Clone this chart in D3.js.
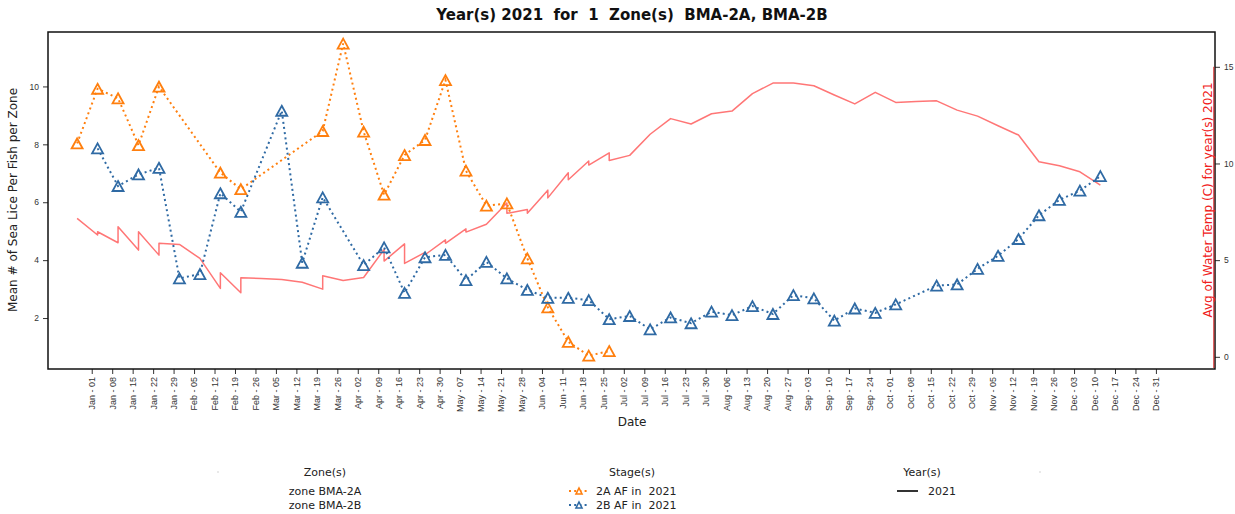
<!DOCTYPE html>
<html>
<head>
<meta charset="utf-8">
<script src="https://cdn.jsdelivr.net/npm/d3@7"></script>
<style>
  body { margin: 0; background: #fff; }
  svg { font-family: "DejaVu Sans", sans-serif; }
  text { white-space: pre; }
</style>
</head>
<body>
<svg id="chart" width="1235" height="514"></svg>
<script>
// Weekly sample dates (Sundays), first one 2020-12-27
var firstSample = new Date(2020, 11, 27);
var sampleDates = d3.range(51).map(function(i) { return d3.timeDay.offset(firstSample, 7 * i); });

// Mean # of sea lice per fish, stage 2A AF (null = no sample that week)
var lice2A = [8.03, 9.92, 9.59, 7.97, 9.99, null, null, 7.02, 6.45, null, null, null, 8.46, 11.48,
  8.44, 6.26, 7.63, 8.15, 10.22, 7.09, 5.88, 5.96, 4.06, 2.37, 1.18, 0.70, 0.86];

// stage 2B AF
var lice2B = [null, 7.86, 6.56, 6.96, 7.19, 3.37, 3.52, 6.31, 5.67, null, 9.16, 3.91, 6.17, null,
  3.83, 4.44, 2.87, 4.10, 4.18, 3.31, 3.94, 3.37, 2.97, 2.70, 2.70, 2.62, 1.96, 2.07, 1.61, 2.02,
  1.82, 2.22, 2.10, 2.41, 2.14, 2.79, 2.68, 1.91, 2.33, 2.18, 2.47, null, 3.12, 3.16, 3.70, 4.15,
  4.73, 5.55, 6.08, 6.40, 6.90];

// Water temperature: week index of each vertex and its value (some weeks have two values)
var tempWeek = [0, 1, 1, 2, 2, 3, 3, 4, 4, 5, 6, 7, 7, 8, 8, 9, 10, 11, 12, 12, 13, 14, 15, 15,
  16, 16, 17, 17, 18, 18, 19, 19, 20, 21, 21, 22, 22, 23, 23, 24, 24, 25, 25, 26, 26, 27, 28, 29,
  30, 31, 32, 33, 34, 35, 36, 37, 38, 39, 40, 41, 42, 43, 44, 45, 46, 47, 48, 49, 50];
var tempValue = [7.16, 6.30, 6.47, 5.90, 6.73, 5.52, 6.47, 5.26, 5.87, 5.81, 5.09, 3.54, 4.35,
  3.31, 4.09, 4.05, 4.00, 3.86, 3.50, 4.19, 3.95, 4.10, 5.55, 4.95, 5.84, 4.83, 5.40, 5.28, 6.05,
  5.87, 6.62, 6.45, 6.86, 7.96, 7.42, 7.62, 7.42, 8.62, 8.22, 9.52, 9.16, 10.13, 9.92, 10.55,
  10.15, 10.42, 11.51, 12.32, 12.04, 12.57, 12.71, 13.61, 14.16, 14.16, 14.02, 13.54, 13.08,
  13.68, 13.16, 13.20, 13.24, 12.76, 12.45, 11.95, 11.47, 10.09, 9.88, 9.57, 8.88];

var leftTicks = [2, 4, 6, 8, 10];
var rightTicks = [0, 5, 10, 15];
var zoneLabels = ["zone BMA-2A", "zone BMA-2B"];
var stageLabels = ["2A AF in  2021", "2B AF in  2021"];
var yearLabels = ["2021"];

var orange = "#ff7f0e", blue = "#2f6aa4", red = "#ff7676";

var svg = d3.select("#chart"),
  margin = {top: 32, right: 20, bottom: 145, left: 48},
  width = 1235 - margin.left - margin.right,
  height = 514 - margin.top - margin.bottom;

var x = d3.scaleTime()
  .domain([new Date(2020, 11, 17, 1), new Date(2022, 0, 20, 5)])
  .range([0, width]);
var y = d3.scaleLinear().domain([0.24, 11.88]).range([height, 0]);
var y2 = d3.scaleLinear().domain([-0.63, 16.8]).range([height, 0]);

var g = svg.append("g")
  .attr("transform", "translate(" + margin.left + ", " + margin.top + ")");

// temperature line (right axis)
var tempPts = tempWeek.map(function(w, i) { return [sampleDates[w], tempValue[i]]; });
g.append("path")
  .attr("d", d3.line().x(function(d) { return x(d[0]); }).y(function(d) { return y2(d[1]); })(tempPts))
  .attr("fill", "none")
  .attr("stroke", red)
  .attr("stroke-width", 1.5)
  .attr("stroke-linejoin", "round");

function tri(w, h) {
  return "M0," + (-h / 2) + "L" + (w / 2) + "," + (h / 2) + "L" + (-w / 2) + "," + (h / 2) + "Z";
}

function drawSeries(values, color) {
  var pts = [];
  values.forEach(function(v, i) { if (v !== null) pts.push([sampleDates[i], v]); });
  g.append("path")
    .attr("d", d3.line().x(function(d) { return x(d[0]); }).y(function(d) { return y(d[1]); })(pts))
    .attr("fill", "none")
    .attr("stroke", color)
    .attr("stroke-width", 2)
    .attr("stroke-dasharray", "2,3.2");
  g.selectAll(null)
    .data(pts)
    .enter()
    .append("path")
      .attr("d", tri(11, 10))
      .attr("transform", function(d) { return "translate(" + x(d[0]) + "," + y(d[1]) + ")"; })
      .attr("fill", "none")
      .attr("stroke", color)
      .attr("stroke-width", 1.8)
      .attr("stroke-linejoin", "miter");
}
drawSeries(lice2A, orange);
drawSeries(lice2B, blue);

// X Axis: weekly ticks from Jan 1 to Dec 31
var xTicks = d3.timeDay.range(new Date(2021, 0, 1), new Date(2022, 0, 1), 7);
var xAxis = g.append("g")
  .attr("transform", "translate(0, " + height + ")")
  .call(d3.axisBottom(x).tickValues(xTicks).tickFormat(d3.timeFormat("%b - %d")).tickSize(5).tickSizeOuter(0));
xAxis.select(".domain").remove();
xAxis.selectAll("line").attr("stroke", "#333");
xAxis.selectAll("text")
  .attr("transform", "rotate(-90)")
  .attr("text-anchor", "end")
  .attr("x", -8)
  .attr("y", 0)
  .attr("dy", "0.32em")
  .attr("font-size", "9px")
  .attr("fill", "#333");

// Left Y Axis
var yAxis = g.append("g")
  .call(d3.axisLeft(y).tickValues(leftTicks).tickSize(5).tickPadding(4));
yAxis.select(".domain").remove();
yAxis.selectAll("line").attr("stroke", "#333");
yAxis.selectAll("text").attr("font-size", "8.5px").attr("fill", "#333");

// Right Y Axis
var yAxis2 = g.append("g")
  .attr("transform", "translate(" + width + ", 0)")
  .call(d3.axisRight(y2).tickValues(rightTicks).tickSize(5).tickPadding(4));
yAxis2.select(".domain").remove();
yAxis2.selectAll("line").attr("stroke", "#333");
yAxis2.selectAll("text").attr("font-size", "8.5px").attr("fill", "#333");

// frame
g.append("rect")
  .attr("width", width).attr("height", height)
  .attr("fill", "none").attr("stroke", "#111").attr("stroke-width", 1.5);
g.append("line")
  .attr("x1", width - 1.2).attr("x2", width - 1.2)
  .attr("y1", y2(15)).attr("y2", height - 1)
  .attr("stroke", "#d42020").attr("stroke-width", 1);

// titles
svg.append("text")
  .attr("x", 632).attr("y", 20)
  .attr("text-anchor", "middle")
  .attr("font-weight", "bold")
  .attr("font-size", "15px")
  .attr("fill", "#111")
  .text("Year(s) 2021  for  1  Zone(s)  BMA-2A, BMA-2B");
svg.append("text")
  .attr("transform", "translate(13, 200) rotate(-90)")
  .attr("text-anchor", "middle").attr("dy", "0.35em")
  .attr("font-size", "12px").attr("fill", "#222")
  .text("Mean # of Sea Lice Per Fish per Zone");
svg.append("text")
  .attr("transform", "translate(1208, 200) rotate(-90)")
  .attr("text-anchor", "middle").attr("dy", "0.35em")
  .attr("font-size", "12px").attr("fill", "#f02020")
  .text("Avg of Water Temp (C) for year(s) 2021");
svg.append("text")
  .attr("x", 632).attr("y", 422)
  .attr("text-anchor", "middle").attr("dy", "0.35em")
  .attr("font-size", "12px").attr("fill", "#222")
  .text("Date");

// Legend
var legend = svg.append("g").attr("font-size", "11px").attr("fill", "#222");
[[325, "Zone(s)"], [632, "Stage(s)"], [922, "Year(s)"]].forEach(function(h) {
  legend.append("text").attr("x", h[0]).attr("y", 472).attr("dy", "0.35em")
    .attr("text-anchor", "middle").text(h[1]);
});
[218, 1040].forEach(function(px) {
  legend.append("circle").attr("cx", px).attr("cy", 472).attr("r", 0.8).attr("fill", "#ccc");
});
zoneLabels.forEach(function(t, i) {
  legend.append("text").attr("x", 325).attr("y", 491 + i * 14).attr("dy", "0.35em")
    .attr("text-anchor", "middle").text(t);
});
[orange, blue].forEach(function(c, i) {
  var yy = 491 + i * 14;
  legend.append("line").attr("x1", 569).attr("x2", 589).attr("y1", yy).attr("y2", yy)
    .attr("stroke", c).attr("stroke-width", 2).attr("stroke-dasharray", "2,3.2");
  legend.append("path").attr("d", tri(6, 6)).attr("transform", "translate(579," + yy + ")")
    .attr("fill", "#fff").attr("stroke", c).attr("stroke-width", 1.6);
  legend.append("text").attr("x", 596).attr("y", yy).attr("dy", "0.35em").text(stageLabels[i]);
});
legend.append("line").attr("x1", 897).attr("x2", 918).attr("y1", 491).attr("y2", 491)
  .attr("stroke", "#333").attr("stroke-width", 2);
legend.append("text").attr("x", 928).attr("y", 491).attr("dy", "0.35em").text(yearLabels[0]);
</script>
</body>
</html>
